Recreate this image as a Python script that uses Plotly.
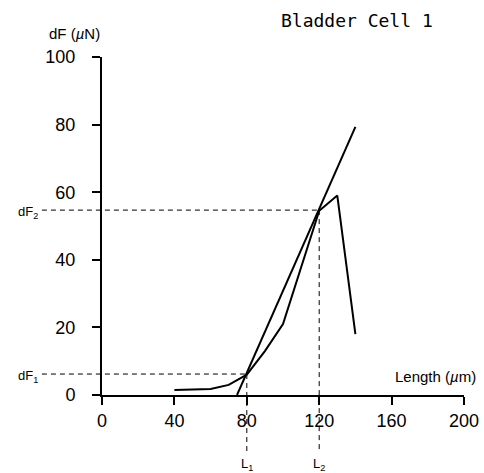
import plotly.graph_objects as go

# ---- data ----
length_um = [40, 60, 70, 80, 90, 100, 120, 130, 140]
dF_uN = [1.5, 1.8, 3.0, 6.0, 13.0, 21.0, 54.5, 59.0, 18.0]

tangent_x = [74.6, 140]
tangent_y = [0, 79.3]

guide_F = [6.2, 54.7]          # dF1, dF2
guide_L = [80, 120]            # L1, L2
guide_F_labels = ["dF<sub>1</sub>", "dF<sub>2</sub>"]
guide_L_labels = ["L<sub>1</sub>", "L<sub>2</sub>"]

x_ticks = [0, 40, 80, 120, 160, 200]
y_ticks = [0, 20, 40, 60, 80, 100]

XR = [0, 200]
YR = [0, 100]

def xp(v):
    return (v - XR[0]) / (XR[1] - XR[0])

def yp(v):
    return (v - YR[0]) / (YR[1] - YR[0])

FONT = "Liberation Sans, Arial, sans-serif"

fig = go.Figure()
fig.add_trace(go.Scatter(x=length_um, y=dF_uN, mode="lines",
                         line=dict(color="black", width=2), showlegend=False))
fig.add_trace(go.Scatter(x=tangent_x, y=tangent_y, mode="lines",
                         line=dict(color="black", width=2), showlegend=False))

shapes = []
annotations = []
left_end = -0.166
bottom_end = -0.172
for F, L, fl, ll in zip(guide_F, guide_L, guide_F_labels, guide_L_labels):
    shapes.append(dict(type="line", xref="paper", yref="paper",
                       x0=left_end, x1=xp(L), y0=yp(F), y1=yp(F),
                       line=dict(color="black", width=1, dash="5px,4px")))
    shapes.append(dict(type="line", xref="paper", yref="paper",
                       x0=xp(L), x1=xp(L), y0=yp(F), y1=bottom_end,
                       line=dict(color="black", width=1, dash="5px,4px")))
    annotations.append(dict(text=fl, xref="paper", yref="paper",
                            x=left_end - 0.004, y=yp(F), yshift=-2,
                            xanchor="right", yanchor="middle",
                            showarrow=False, font=dict(family=FONT, size=13, color="black")))
    annotations.append(dict(text=ll, xref="paper", yref="paper",
                            x=xp(L), y=-0.205, xanchor="center", yanchor="middle",
                            showarrow=False, font=dict(family=FONT, size=13, color="black")))

annotations.append(dict(text="Bladder Cell 1", xref="paper", yref="paper",
                        x=0.704, y=1, yshift=37, xanchor="center", yanchor="middle",
                        showarrow=False,
                        font=dict(family="DejaVu Sans Mono, monospace", size=18, color="black")))
annotations.append(dict(text="dF (<i>µ</i>N)", xref="paper", yref="paper",
                        x=0, y=1, xshift=0, yshift=13, xanchor="right", yanchor="bottom",
                        showarrow=False, font=dict(family=FONT, size=15, color="black")))
annotations.append(dict(text="Length (<i>µ</i>m)", xref="paper", yref="paper",
                        x=1, y=0, xshift=14, yshift=8, xanchor="right", yanchor="bottom",
                        showarrow=False, font=dict(family=FONT, size=15, color="black")))

axis_common = dict(showline=True, linecolor="black", linewidth=2,
                   ticks="outside", ticklen=8, tickwidth=2, tickcolor="black",
                   showgrid=False, zeroline=False, automargin=False,
                   tickfont=dict(family=FONT, size=18, color="black"))

fig.update_layout(
    width=484, height=473,
    margin=dict(l=102, r=20, t=57, b=78),
    plot_bgcolor="white", paper_bgcolor="white",
    xaxis=dict(range=XR, tickmode="array", tickvals=x_ticks, **axis_common),
    yaxis=dict(range=YR, tickmode="array", tickvals=y_ticks,
               ticklabelstandoff=13, **axis_common),
    shapes=shapes, annotations=annotations,
)

fig.write_html("out.html")
